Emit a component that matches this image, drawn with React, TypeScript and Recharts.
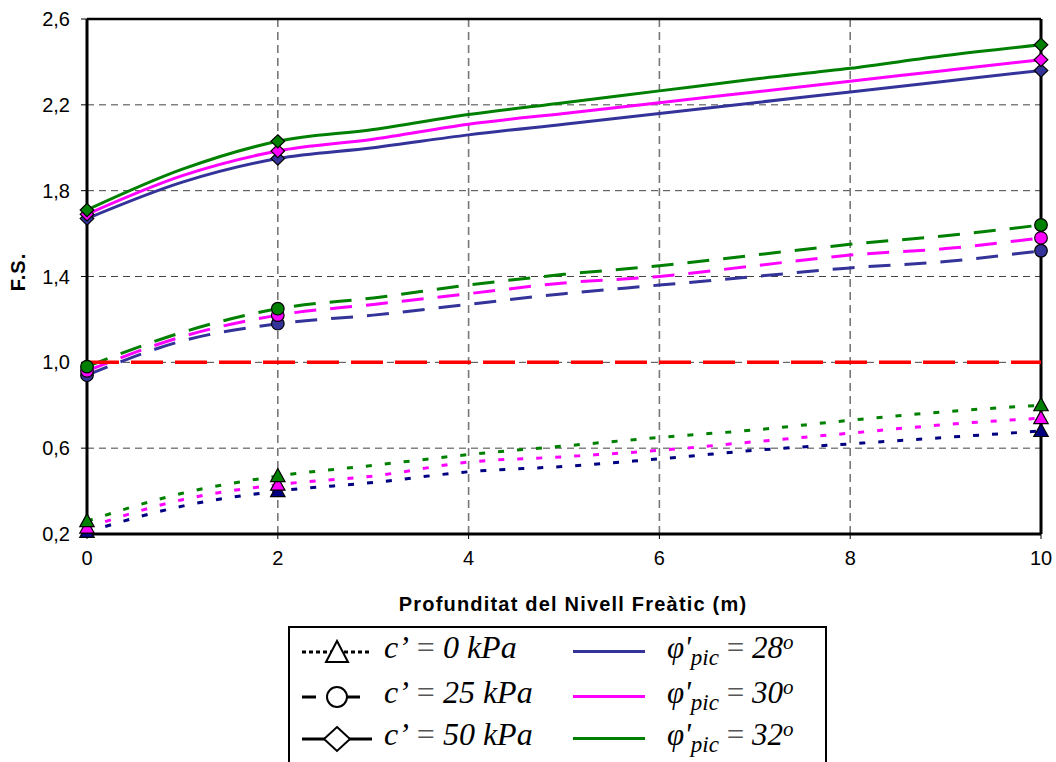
import React from 'react';
import {
  LineChart,
  Line,
  XAxis,
  YAxis,
  CartesianGrid,
  ReferenceLine,
} from 'recharts';

// Profunditat del nivell freàtic (m)
const DEPTHS = [0, 1, 2, 3, 4, 5, 6, 7, 8, 9, 10];
// only these depths carry a marker in the original
const MARKER_DEPTHS = [0, 2, 10];

// c' = 0 kPa (dotted)
const C0_PHI28 = [0.21, 0.33, 0.4, 0.44, 0.49, 0.515, 0.55, 0.59, 0.62, 0.65, 0.68];
const C0_PHI30 = [0.23, 0.36, 0.43, 0.47, 0.535, 0.56, 0.59, 0.63, 0.67, 0.71, 0.74];
const C0_PHI32 = [0.26, 0.39, 0.47, 0.52, 0.57, 0.61, 0.65, 0.685, 0.73, 0.77, 0.8];

// c' = 25 kPa (dashed)
const C25_PHI28 = [0.94, 1.1, 1.18, 1.22, 1.27, 1.32, 1.36, 1.4, 1.44, 1.47, 1.52];
const C25_PHI30 = [0.96, 1.12, 1.22, 1.27, 1.32, 1.37, 1.4, 1.45, 1.5, 1.53, 1.58];
const C25_PHI32 = [0.98, 1.14, 1.25, 1.3, 1.36, 1.41, 1.45, 1.5, 1.55, 1.59, 1.64];

// c' = 50 kPa (solid)
const C50_PHI28 = [1.67, 1.84, 1.95, 2.0, 2.06, 2.11, 2.16, 2.21, 2.26, 2.31, 2.36];
const C50_PHI30 = [1.69, 1.87, 1.985, 2.04, 2.11, 2.16, 2.21, 2.26, 2.31, 2.36, 2.41];
const C50_PHI32 = [1.71, 1.9, 2.03, 2.085, 2.155, 2.21, 2.265, 2.32, 2.37, 2.43, 2.48];

const X_TICKS = [0, 2, 4, 6, 8, 10];
const Y_TICKS = [0.2, 0.6, 1.0, 1.4, 1.8, 2.2, 2.6];
const FS_LIMIT = 1.0;

const AXIS_FONT = "'Liberation Sans', Arial, sans-serif";
const SERIF = "'Liberation Serif', 'Times New Roman', serif";

type Shape = 'triangle' | 'circle' | 'diamond';

const SERIES: {
  key: string;
  values: number[];
  color: string;
  dash?: string;
  shape: Shape;
}[] = [
  { key: 'c0_28', values: C0_PHI28, color: '#000080', dash: '6 13', shape: 'triangle' },
  { key: 'c0_30', values: C0_PHI30, color: '#ff00ff', dash: '6 13', shape: 'triangle' },
  { key: 'c0_32', values: C0_PHI32, color: '#008000', dash: '6 13', shape: 'triangle' },
  { key: 'c25_28', values: C25_PHI28, color: '#333399', dash: '22 14', shape: 'circle' },
  { key: 'c25_30', values: C25_PHI30, color: '#ff00ff', dash: '22 14', shape: 'circle' },
  { key: 'c25_32', values: C25_PHI32, color: '#008000', dash: '22 14', shape: 'circle' },
  { key: 'c50_28', values: C50_PHI28, color: '#333399', shape: 'diamond' },
  { key: 'c50_30', values: C50_PHI30, color: '#ff00ff', shape: 'diamond' },
  { key: 'c50_32', values: C50_PHI32, color: '#008000', shape: 'diamond' },
];

const data = DEPTHS.map((x, i) => {
  const row: Record<string, number> = { x };
  for (const s of SERIES) row[s.key] = s.values[i];
  return row;
});

function markerPath(shape: Shape, cx: number, cy: number, fill: string, key: string) {
  if (shape === 'circle') {
    return <circle key={key} cx={cx} cy={cy} r={6.3} fill={fill} stroke="#000" strokeWidth={1.2} />;
  }
  if (shape === 'triangle') {
    const pts = `${cx},${cy - 7.5} ${cx - 7.2},${cy + 5.5} ${cx + 7.2},${cy + 5.5}`;
    return <polygon key={key} points={pts} fill={fill} stroke="#000" strokeWidth={1.2} />;
  }
  const pts = `${cx},${cy - 6.6} ${cx + 6.8},${cy} ${cx},${cy + 6.6} ${cx - 6.8},${cy}`;
  return <polygon key={key} points={pts} fill={fill} stroke="#000" strokeWidth={1.2} />;
}

const makeDot = (shape: Shape, color: string, name: string) => (props: any) => {
  const { cx, cy, payload, index } = props;
  const k = `${name}-${index}`;
  if (!MARKER_DEPTHS.includes(payload.x)) return <g key={k} />;
  return markerPath(shape, cx, cy, color, k);
};

const fmt = (v: number) => v.toFixed(1).replace('.', ',');

function XTick(props: any) {
  const { x, y, payload } = props;
  return (
    <text x={x} y={y + 24} textAnchor="middle" fontSize={20} fontFamily={AXIS_FONT} fill="#000">
      {payload.value}
    </text>
  );
}

function YTick(props: any) {
  const { x, y, payload } = props;
  return (
    <text x={70} y={y + 7} textAnchor="end" fontSize={20} fontFamily={AXIS_FONT} fill="#000">
      {fmt(payload.value)}
    </text>
  );
}

function LegendSymbol({ shape, dash }: { shape: Shape; dash?: string }) {
  return (
    <svg width={74} height={30} style={{ position: 'absolute', left: 10, top: 0 }}>
      <line x1={2} y1={15} x2={72} y2={15} stroke="#000" strokeWidth={3} strokeDasharray={dash} />
      {shape === 'triangle' && (
        <polygon points="37,4 26,25 48,25" fill="#fff" stroke="#000" strokeWidth={2} />
      )}
      {shape === 'circle' && <circle cx={37} cy={15} r={10} fill="#fff" stroke="#000" strokeWidth={2} />}
      {shape === 'diamond' && (
        <polygon points="37,3 50,15 37,27 24,15" fill="#fff" stroke="#000" strokeWidth={2} />
      )}
    </svg>
  );
}

const LEGEND_LEFT = [
  { label: '0', shape: 'triangle' as Shape, dash: '4 3' },
  { label: '25', shape: 'circle' as Shape, dash: '14 30' },
  { label: '50', shape: 'diamond' as Shape, dash: undefined },
];
const LEGEND_RIGHT = [
  { label: '28', color: '#333399' },
  { label: '30', color: '#ff00ff' },
  { label: '32', color: '#008000' },
];

function ChartLegend() {
  const rowTop = [9, 54, 96];
  return (
    <div
      style={{
        position: 'absolute',
        left: 288,
        top: 626,
        width: 539,
        height: 150,
        border: '2.5px solid #000',
        boxSizing: 'border-box',
        background: '#fff',
        fontFamily: SERIF,
      }}
    >
      {LEGEND_LEFT.map((r, i) => (
        <div key={r.label} style={{ position: 'absolute', left: 0, top: rowTop[i], width: 260, height: 34 }}>
          <LegendSymbol shape={r.shape} dash={r.dash} />
          <span
            style={{
              position: 'absolute',
              left: 94,
              top: -8,
              fontSize: 32,
              fontStyle: 'italic',
              whiteSpace: 'nowrap',
            }}
          >
            c’&nbsp;<span style={{ fontStyle: 'normal', color: '#555' }}>=</span> {r.label} kPa
          </span>
        </div>
      ))}
      {LEGEND_RIGHT.map((r, i) => (
        <div key={r.label} style={{ position: 'absolute', left: 270, top: rowTop[i], width: 260, height: 34 }}>
          <div
            style={{
              position: 'absolute',
              left: 13,
              top: 13,
              width: 72,
              height: 3,
              background: r.color,
            }}
          />
          <span
            style={{
              position: 'absolute',
              left: 107,
              top: -7,
              fontSize: 31,
              fontStyle: 'italic',
              whiteSpace: 'nowrap',
            }}
          >
            φ'
            <span style={{ fontSize: 23, position: 'relative', top: 7 }}>pic</span>{' '}
            <span style={{ fontStyle: 'normal', color: '#555' }}>=</span> {r.label}
            <span style={{ fontSize: 21, position: 'relative', top: -9 }}>o</span>
          </span>
        </div>
      ))}
    </div>
  );
}

export default function App() {
  return (
    <div
      style={{
        position: 'absolute',
        left: 0,
        top: 0,
        width: 1056,
        height: 762,
        background: '#fff',
        overflow: 'hidden',
      }}
    >
      <LineChart
        width={1056}
        height={600}
        data={data}
        margin={{ top: 19, right: 15, bottom: 26, left: 0 }}
      >
        <CartesianGrid
          horizontal
          vertical={false}
          stroke="#444"
          strokeWidth={1}
          strokeDasharray="7 5"
        />
        <CartesianGrid
          horizontal={false}
          vertical
          stroke="#777"
          strokeWidth={1.6}
          strokeDasharray="8 5"
        />
        <XAxis
          dataKey="x"
          type="number"
          domain={[0, 10]}
          ticks={X_TICKS}
          height={40}
          axisLine={{ stroke: '#000', strokeWidth: 3 }}
          tickLine={{ stroke: '#000', strokeWidth: 1 }}
          tickSize={5}
          tick={<XTick />}
        />
        <YAxis
          type="number"
          domain={[0.2, 2.6]}
          ticks={Y_TICKS}
          width={87}
          axisLine={{ stroke: '#000', strokeWidth: 3 }}
          tickLine={{ stroke: '#000', strokeWidth: 1 }}
          tickSize={6}
          tick={<YTick />}
        />
        <ReferenceLine y={2.6} stroke="#000" strokeWidth={2.5} />
        <ReferenceLine x={10} stroke="#000" strokeWidth={3} />
        {SERIES.map((s) => (
          <Line
            key={s.key}
            dataKey={s.key}
            type="monotone"
            stroke={s.color}
            strokeWidth={3}
            strokeDasharray={s.dash}
            dot={makeDot(s.shape, s.color, s.key)}
            activeDot={false}
            isAnimationActive={false}
          />
        ))}
        <ReferenceLine y={FS_LIMIT} stroke="#ff0000" strokeWidth={3.5} strokeDasharray="32 12" />
      </LineChart>
      <div
        style={{
          position: 'absolute',
          left: 18,
          top: 272,
          transform: 'translate(-50%, -50%) rotate(-90deg)',
          fontFamily: AXIS_FONT,
          fontWeight: 'bold',
          fontSize: 20,
          letterSpacing: 1,
          whiteSpace: 'nowrap',
        }}
      >
        F.S.
      </div>
      <div
        style={{
          position: 'absolute',
          left: 573,
          top: 604,
          transform: 'translate(-50%, -50%)',
          fontFamily: AXIS_FONT,
          fontWeight: 'bold',
          fontSize: 20,
          letterSpacing: 1.2,
          whiteSpace: 'nowrap',
        }}
      >
        Profunditat del Nivell Freàtic (m)
      </div>
      <ChartLegend />
    </div>
  );
}
